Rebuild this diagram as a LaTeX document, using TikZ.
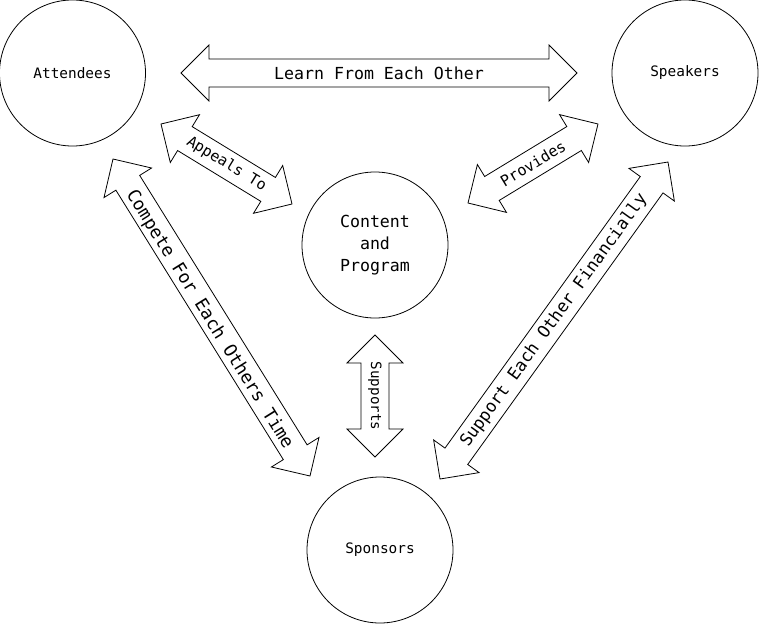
\documentclass[tikz,border=0pt]{standalone}
\usepackage{fontspec}
\newfontfamily\diagfont{DejaVu Sans Mono}
\usetikzlibrary{calc}
\tikzset{
  circ/.style={circle, draw, line width=0.8pt, minimum size=146pt, inner sep=0pt,
    font=\diagfont\fontsize{14.4}{22}\selectfont, align=center},
  blockarr/.style={draw, line width=0.8pt, line join=miter},
  lbl/.style={inner sep=0pt, font=\diagfont\fontsize{#1}{#1}\selectfont},
}
\newcommand\dblarrow[3]{%
  \coordinate (#1-a) at #2;
  \coordinate (#1-b) at #3;
  \coordinate (#1-p) at ($(#1-a)!28pt!(#1-b)$);
  \coordinate (#1-q) at ($(#1-b)!28pt!(#1-a)$);
  \draw[blockarr] (#1-a)
    -- ($(#1-p)!28pt!90:(#1-b)$) -- ($(#1-p)!14pt!90:(#1-b)$)
    -- ($(#1-q)!14pt!90:(#1-b)$) -- ($(#1-q)!28pt!90:(#1-b)$)
    -- (#1-b)
    -- ($(#1-q)!28pt!-90:(#1-b)$) -- ($(#1-q)!14pt!-90:(#1-b)$)
    -- ($(#1-p)!14pt!-90:(#1-b)$) -- ($(#1-p)!28pt!-90:(#1-b)$)
    -- cycle;
}
\begin{document}
\begin{tikzpicture}[x=1pt,y=-1pt]
\useasboundingbox (0,0) rectangle (760,624);
% circles
\node[circ] (att) at (72.5,73) {Attendees};
\node[circ] (spk) at (685,73) {Speakers};
\node[circ, font=\diagfont\fontsize{16.6}{22}\selectfont] (con) at (375,245) {Content\\and\\Program};
\node[circ] (spo) at (380,550) {Sponsors};
% block arrows
\dblarrow{learn}{(181,73)}{(577,73)}
\dblarrow{appeal}{(161,124)}{(292,204)}
\dblarrow{prov}{(468,203)}{(598,124)}
\dblarrow{comp}{(113,159)}{(310,476)}
\dblarrow{supf}{(440,479)}{(668,162)}
\dblarrow{sup}{(375,335)}{(375,457)}
% labels
\node[lbl=16.6] (t-learn) at ($(learn-a)!0.5!(learn-b)$) {Learn From Each Other};
\node[lbl=15, rotate=-31.4] (t-appeal) at ($(appeal-a)!0.5!(appeal-b)$) {Appeals To};
\node[lbl=15.2, rotate=31.3] (t-prov) at ($(prov-a)!0.5!(prov-b)$) {Provides};
\node[lbl=17.8, rotate=-58.1] (t-comp) at ($(comp-a)!0.5!(comp-b)+(-2,2)$) {Compete For Each Others Time};
\node[lbl=17, rotate=54.3] (t-supf) at ($(supf-a)!0.5!(supf-b)$) {Support Each Other Financially};
\node[lbl=14.2, rotate=-90] (t-sup) at ($(sup-a)!0.5!(sup-b)$) {Supports};
\end{tikzpicture}
\end{document}
